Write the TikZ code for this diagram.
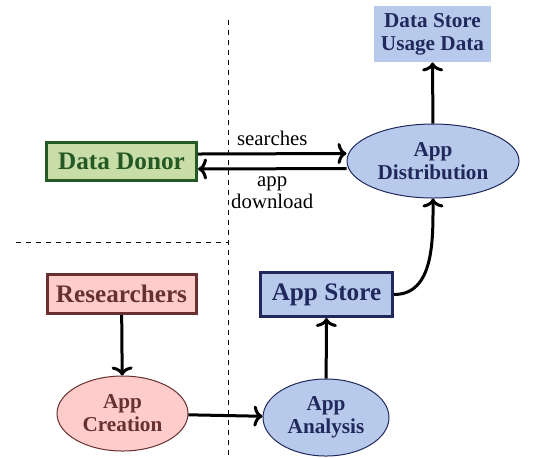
\documentclass[tikz,border=0pt]{standalone}
\usepackage{fontspec}
\setmainfont{Liberation Serif}
\usetikzlibrary{arrows.meta,shapes}

\definecolor{bluefill}{RGB}{184,202,236}
\definecolor{navy}{RGB}{32,40,92}
\definecolor{greenfill}{RGB}{200,221,168}
\definecolor{darkgreen}{RGB}{36,88,36}
\definecolor{pinkfill}{RGB}{255,204,204}
\definecolor{darkred}{RGB}{104,48,48}

\begin{document}
\begin{tikzpicture}[x=0.5pt,y=-0.5pt,
  big/.style={font=\fontsize{12.6}{14}\selectfont\bfseries},
  small/.style={font=\fontsize{10.6}{11.5}\selectfont\bfseries,align=center},
  box/.style={draw,rectangle,line width=1.5pt,inner sep=0pt,big},
  oval/.style={draw,ellipse,line width=0.5pt,inner sep=0pt,small},
  flow/.style={-{To[length=4.5pt,width=10.5pt]},line width=1.5pt},
  lab/.style={font=\fontsize{10.4}{11}\selectfont,align=center}]
\useasboundingbox (0,0) rectangle (533,457);
% separators
\draw[line width=0.5pt,dash pattern=on 2.5pt off 2.5pt] (228,20) -- (228,457);
\draw[line width=0.5pt,dash pattern=on 2.5pt off 2.5pt] (16,242) -- (228,242);
% nodes
\node[small,fill=bluefill,text=navy,minimum width=58.5pt,minimum height=28pt,inner sep=0pt] (store) at (432.5,34) {Data Store\\Usage Data};
\node[oval,fill=bluefill,draw=navy,text=navy,minimum width=86pt,minimum height=37pt] (dist) at (433,161) {App\\Distribution};
\node[box,fill=greenfill,draw=darkgreen,text=darkgreen,minimum width=75pt,minimum height=19pt] (donor) at (121.5,161.5) {Data Donor};
\node[box,fill=pinkfill,draw=darkred,text=darkred,minimum width=74.5pt,minimum height=19.5pt] (res) at (121.5,294) {Researchers};
\node[oval,fill=pinkfill,draw=darkred,text=darkred,minimum width=65.5pt,minimum height=37.5pt] (create) at (122.5,413.5) {App\\Creation};
\node[oval,fill=bluefill,draw=navy,text=navy,minimum width=63pt,minimum height=38.5pt] (analysis) at (326,417.5) {App\\Analysis};
\node[box,fill=bluefill,draw=navy,text=navy,minimum width=66pt,minimum height=22pt] (appstore) at (326.5,294.5) {App Store};
% flows
\draw[flow] ([yshift=3.75pt]donor.east) -- node[lab,midway,above] (searches) {searches} ([yshift=3.75pt]dist.west);
\draw[flow] ([yshift=-3.75pt]dist.west) -- node[lab,midway,below] (download) {app\\download} ([yshift=-3.75pt]donor.east);
\draw[flow] (dist) -- (store);
\draw[flow] (res) -- (create);
\draw[flow] (create) -- (analysis);
\draw[flow] (analysis) -- (appstore);
\draw[flow] (appstore.east) to[out=0,in=-90] (dist.south);
\end{tikzpicture}
\end{document}
